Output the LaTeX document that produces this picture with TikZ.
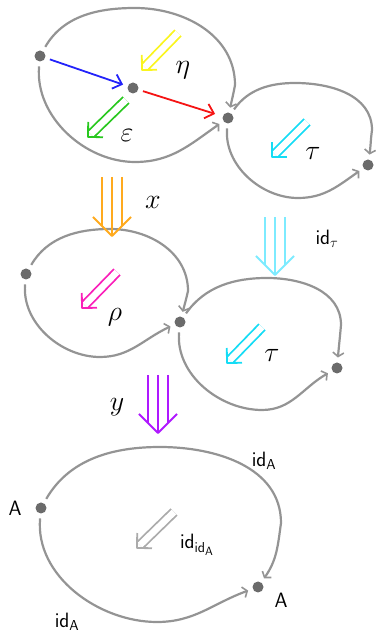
\documentclass[tikz,border=0pt]{standalone}
\usepackage{amsmath,amssymb}
\usetikzlibrary{arrows.meta,calc}
\definecolor{cblue}{RGB}{35,35,250}
\definecolor{cred}{RGB}{245,20,20}
\definecolor{cyell}{RGB}{250,245,30}
\definecolor{cgreen}{RGB}{40,200,30}
\definecolor{ccyan}{RGB}{20,220,245}
\definecolor{cmag}{RGB}{250,30,185}
\definecolor{corange}{RGB}{255,170,30}
\definecolor{cpurple}{RGB}{175,25,255}
\definecolor{clcyan}{RGB}{125,235,255}
\begin{document}
\begin{tikzpicture}[x=1pt,y=1pt,
  v/.style={circle,fill=black!58,minimum size=11pt,inner sep=0pt,outer sep=5pt},
  e/.style={draw=black!42,line width=2.2pt,-{Straight Barb[length=4pt,width=11pt,line width=1.6pt]}},
  ar/.style={line width=1.8pt,-{Straight Barb[length=8pt,width=15pt]}},
  lab/.style={font=\huge,inner sep=1pt},
  glab/.style={font=\huge,inner sep=1pt}]
  \useasboundingbox (0,0) rectangle (377,637);
  % double and triple arrows: colour, tail, tip
  \newcommand{\dbl}[3]{%
    \draw[#1,line width=1.8pt,double=white,double distance=6.5pt,shorten >=4pt] (#2) -- (#3);
    \draw[#1,line width=1.8pt,line join=round] ($(#3)!15pt!-45:(#2)$) -- (#3) -- ($(#3)!15pt!45:(#2)$);}
  \newcommand{\tripar}[3]{%
    \draw[#1,line width=1.8pt,double=white,double distance=18pt,shorten >=10pt] (#2) -- (#3);
    \draw[#1,line width=1.8pt] (#2) -- (#3);
    \draw[#1,line width=1.8pt,line join=round] ($(#3)!27pt!-45:(#2)$) -- (#3) -- ($(#3)!27pt!45:(#2)$);}
  \newcommand{\gk}[1]{\scalebox{1.35}{$#1$}}
  % points
  \node[v] (p1) at (40,581) {}; \node[v] (q1) at (133,549) {};
  \node[v] (r1) at (228,519) {}; \node[v] (s1) at (368,472) {};
  \node[v] (p2) at (26,363) {}; \node[v] (r2) at (180,315) {};
  \node[v] (s2) at (337,269) {};
  \node[v] (pA) at (41,129) {}; \node[v] (rA) at (258,50) {};
  % top, right side and bottom of each loop
  \coordinate (t1) at (135,629); \coordinate (e1) at (235,552); \coordinate (b1) at (135,475);
  \coordinate (t2) at (295,554); \coordinate (e2) at (372,507); \coordinate (b2) at (298,439);
  \coordinate (t3) at (110,408); \coordinate (e3) at (188,346); \coordinate (b3) at (100,280);
  \coordinate (t4) at (267,359); \coordinate (e4) at (341,312); \coordinate (b4) at (262,227);
  \coordinate (t5) at (160,190); \coordinate (e5) at (281,114); \coordinate (b5) at (157,15);
  % loops
  \draw[e] (p1) to[out=60,in=180,looseness=0.95] (t1) to[out=0,in=90] (e1) to[out=260,in=78] (r1);
  \draw[e] (p1) to[out=265,in=180,looseness=0.95] (b1) to[out=0,in=215] (r1);
  \draw[e] (r1) to[out=55,in=180,looseness=0.95] (t2) to[out=0,in=90] (e2) to[out=262,in=82] (s1);
  \draw[e] (r1) to[out=265,in=180,looseness=0.95] (b2) to[out=0,in=215] (s1);
  \draw[e] (p2) to[out=60,in=180,looseness=0.95] (t3) to[out=0,in=90] (e3) to[out=257,in=75] (r2);
  \draw[e] (p2) to[out=265,in=180,looseness=0.95] (b3) to[out=0,in=205] (r2);
  \draw[e] (r2) to[out=55,in=180,looseness=0.95] (t4) to[out=0,in=90] (e4) to[out=265,in=85] (s2);
  \draw[e] (r2) to[out=265,in=180,looseness=0.95] (b4) to[out=0,in=210] (s2);
  \draw[e] (pA) to[out=60,in=180,looseness=0.95] (t5) to[out=0,in=90] (e5) to[out=262,in=55] (rA);
  \draw[e] (pA) to[out=265,in=180,looseness=0.95] (b5) to[out=0,in=200] (rA);
  % 1-cells inside the first loop
  \draw[ar,cblue] (p1) -- (q1);
  \draw[ar,cred,shorten >=3pt] (q1) -- (r1);
  % 2-cells
  \coordinate (eta0) at (178,604); \coordinate (eta1) at (142,567);
  \coordinate (eps0) at (126,537); \coordinate (eps1) at (88,500);
  \coordinate (tau0) at (307,515); \coordinate (tau1) at (272,480);
  \coordinate (rho0) at (117,365); \coordinate (rho1) at (82,329);
  \coordinate (tbo0) at (262,310); \coordinate (tbo1) at (227,274);
  \coordinate (idd0) at (174,125); \coordinate (idd1) at (137,89);
  \dbl{cyell}{eta0}{eta1}
  \dbl{cgreen}{eps0}{eps1}
  \dbl{ccyan}{tau0}{tau1}
  \dbl{cmag}{rho0}{rho1}
  \dbl{ccyan}{tbo0}{tbo1}
  \dbl{black!33}{idd0}{idd1}
  % 3-cells
  \coordinate (x0) at (112,460); \coordinate (x1) at (112,401);
  \coordinate (it0) at (275,420); \coordinate (it1) at (275,362);
  \coordinate (y0) at (158,262); \coordinate (y1) at (158,204);
  \tripar{corange}{x0}{x1}
  \tripar{clcyan}{it0}{it1}
  \tripar{cpurple}{y0}{y1}
  % labels
  \node[glab] (leta) at (183,567) {\gk{\eta}};
  \node[glab] (leps) at (127,502) {\gk{\varepsilon}};
  \node[glab] (ltau) at (313,484) {\gk{\tau}};
  \node[glab] (lrho) at (115,320) {\gk{\rho}};
  \node[glab] (ltbo) at (272,282) {\gk{\tau}};
  \node[glab] (lx) at (153,435) {\gk{x}};
  \node[glab] (ly) at (117,230) {\gk{y}};
  \node[lab] (lit) at (327,398) {$\mathsf{id}_\tau$};
  \node[lab] (lA0) at (15,129) {$\mathsf{A}$};
  \node[lab] (lA1) at (281,37) {$\mathsf{A}$};
  \node[lab] (lup) at (264,176) {$\mathsf{id}_{\mathsf{A}}$};
  \node[lab] (llo) at (67,15) {$\mathsf{id}_{\mathsf{A}}$};
  \node[lab] (lidd) at (197,92) {$\mathsf{id}_{\mathsf{id}_{\mathsf{A}}}$};
\end{tikzpicture}
\end{document}
